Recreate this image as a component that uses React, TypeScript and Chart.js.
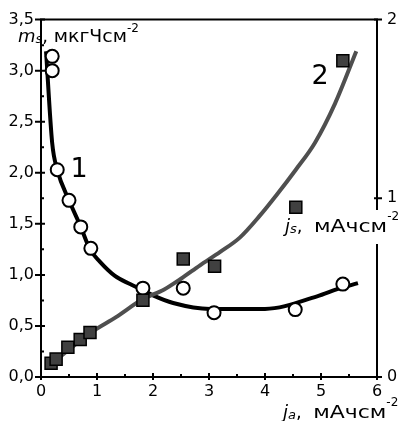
import React, { useEffect, useRef } from 'react';
import { Chart, registerables } from 'chart.js';
Chart.register(...registerables);

// Curve 1: m_s (left axis), white markers
const pts1X = [0.2, 0.2, 0.29, 0.5, 0.71, 0.89, 1.82, 2.54, 3.09, 4.54, 5.39];
const pts1Y = [3.14, 3.0, 2.03, 1.73, 1.47, 1.26, 0.87, 0.87, 0.63, 0.66, 0.91];
const curve1X = [0.09, 0.2, 0.29, 0.5, 0.71, 0.875, 1.05, 1.32, 1.59, 1.82, 2.0, 2.36, 3.02, 4.0, 4.93, 5.29, 5.66];
const curve1Y = [3.19, 2.29, 2.03, 1.73, 1.47, 1.25, 1.13, 0.99, 0.91, 0.85, 0.8, 0.725, 0.667, 0.667, 0.79, 0.86, 0.92];

// Curve 2: j_s (right axis), dark squares
const pts2X = [0.18, 0.27, 0.48, 0.7, 0.875, 1.82, 2.54, 3.1, 4.55, 5.39];
const pts2Y = [0.077, 0.1, 0.166, 0.21, 0.249, 0.43, 0.66, 0.62, 0.95, 1.77];
const curve2X = [0.2, 0.89, 1.34, 1.82, 2.2, 2.5, 2.84, 3.2, 3.55, 3.9, 4.21, 4.55, 4.89, 5.25, 5.63];
const curve2Y = [0.077, 0.249, 0.335, 0.436, 0.49, 0.55, 0.625, 0.7, 0.78, 0.9, 1.02, 1.16, 1.31, 1.53, 1.823];

const xTicksMax = 6;
const yLeftMax = 3.5;
const yRightMax = 2;

const FONT = 'DejaVu Sans';

const zip = (xs: number[], ys: number[]) => xs.map((x, i) => ({ x, y: ys[i] }));

type Seg = { t: string; size: number; italic?: boolean; dy?: number; sx?: number };

function drawSegs(ctx: CanvasRenderingContext2D, x: number, y: number, segs: Seg[]) {
  let cx = x;
  for (const s of segs) {
    ctx.font = `${s.italic ? 'italic ' : ''}${s.size}px "${FONT}"`;
    const sx = s.sx || 1;
    ctx.save();
    ctx.translate(cx, y + (s.dy || 0));
    ctx.scale(sx, 1);
    ctx.fillText(s.t, 0, 0);
    ctx.restore();
    cx += ctx.measureText(s.t).width * sx;
  }
  return cx;
}

const decorPlugin = {
  id: 'decor',
  beforeDatasetsDraw(chart: any) {
    const ctx = chart.ctx as CanvasRenderingContext2D;
    const { left, right, top, bottom } = chart.chartArea;
    const xs = chart.scales.x;
    const yl = chart.scales.y;
    const yr = chart.scales.y2;
    ctx.save();
    ctx.strokeStyle = '#000';
    ctx.lineWidth = 2;
    ctx.lineCap = 'butt';
    ctx.beginPath();
    ctx.moveTo(left, top);
    ctx.lineTo(right, top);
    ctx.moveTo(left, top - 1);
    ctx.lineTo(left, bottom + 1);
    ctx.moveTo(left - 1, bottom);
    ctx.lineTo(right + 1, bottom);
    ctx.moveTo(right, top - 1);
    ctx.lineTo(right, bottom + 1);
    ctx.stroke();
    // ticks
    ctx.beginPath();
    for (let v = 0; v <= xTicksMax + 1e-9; v += 0.5) {
      const px = xs.getPixelForValue(v);
      const major = Math.abs(v - Math.round(v)) < 1e-6;
      ctx.moveTo(px, bottom + (major ? 3 : 0));
      ctx.lineTo(px, bottom - (major ? 4 : 3));
    }
    for (let v = 0; v <= yLeftMax + 1e-9; v += 0.25) {
      const py = yl.getPixelForValue(v);
      const major = Math.abs(v * 2 - Math.round(v * 2)) < 1e-6;
      ctx.moveTo(left - (major ? 6 : 0), py);
      ctx.lineTo(left + (major ? 4 : 3), py);
    }
    for (let v = 0; v <= yRightMax + 1e-9; v += 1) {
      const py = yr.getPixelForValue(v);
      ctx.moveTo(right - 3, py);
      ctx.lineTo(right + 5, py);
    }
    ctx.stroke();
    ctx.restore();
  },
  afterDatasetsDraw(chart: any) {
    const ctx = chart.ctx as CanvasRenderingContext2D;
    ctx.save();
    ctx.fillStyle = '#000';
    ctx.textBaseline = 'alphabetic';
    ctx.textAlign = 'left';
    // left axis title
    drawSegs(ctx, 18, 42, [
      { t: 'm', size: 18, italic: true },
      { t: 's', size: 13, italic: true, dy: 1 },
      { t: ', ', size: 18 },
      { t: 'мкгЧсм', size: 18, sx: 1.05 },
      { t: '-2', size: 12, dy: -10 },
    ]);
    // right axis title with white background over the axis
    ctx.fillStyle = '#fff';
    ctx.fillRect(370, 210, 16, 34);
    ctx.fillStyle = '#000';
    drawSegs(ctx, 285, 232, [
      { t: 'j', size: 18, italic: true },
      { t: 's', size: 13, italic: true, dy: 1 },
      { t: ',  ', size: 18 },
      { t: 'мАчсм', size: 18, sx: 1.22 },
      { t: '-2', size: 12, dy: -12 },
    ]);
    // x axis title
    drawSegs(ctx, 283, 418, [
      { t: 'j', size: 18, italic: true },
      { t: 'a', size: 13, italic: true, dy: 1 },
      { t: ',  ', size: 18 },
      { t: 'мАчсм', size: 18, sx: 1.22 },
      { t: '-2', size: 12, dy: -12 },
    ]);
    // curve labels
    ctx.font = `27px "${FONT}"`;
    ctx.textAlign = 'center';
    ctx.fillText('1', 79, 177);
    ctx.fillText('2', 320, 84);
    ctx.restore();
  },
};

export default function App() {
  const ref = useRef<HTMLCanvasElement>(null);
  useEffect(() => {
    if (!ref.current) return;
    const tickFont = { family: FONT, size: 16 };
    const grid = { display: false, drawTicks: false, tickLength: 0 };
    const chart = new Chart(ref.current, {
      type: 'scatter',
      data: {
        datasets: [
          {
            data: zip(curve1X, curve1Y),
            showLine: true,
            borderColor: '#000',
            borderWidth: 4,
            pointRadius: 0,
            cubicInterpolationMode: 'monotone',
            yAxisID: 'y',
            order: 4,
          } as any,
          {
            data: zip(curve2X, curve2Y),
            showLine: true,
            borderColor: '#4f4f4f',
            borderWidth: 4,
            pointRadius: 0,
            cubicInterpolationMode: 'monotone',
            yAxisID: 'y2',
            order: 3,
          } as any,
          {
            data: zip(pts1X, pts1Y),
            showLine: false,
            pointStyle: 'circle',
            pointRadius: 6.5,
            pointBackgroundColor: '#fff',
            pointBorderColor: '#000',
            pointBorderWidth: 2,
            yAxisID: 'y',
            order: 2,
          } as any,
          {
            data: zip(pts2X, pts2Y),
            showLine: false,
            pointStyle: 'rect',
            pointRadius: 8.5,
            pointBackgroundColor: '#404040',
            pointBorderColor: '#000',
            pointBorderWidth: 1.5,
            yAxisID: 'y2',
            order: 1,
          } as any,
        ],
      },
      options: {
        animation: false,
        responsive: false,
        events: [],
        layout: { padding: { top: 15, left: 0, right: 0, bottom: 0 } },
        plugins: { legend: { display: false }, tooltip: { enabled: false } },
        scales: {
          x: {
            type: 'linear',
            min: 0,
            max: xTicksMax,
            afterFit: (s: any) => { s.height = 44; },
            grid,
            border: { display: false },
            ticks: { stepSize: 1, color: '#000', font: tickFont, padding: 5, maxRotation: 0 },
          },
          y: {
            type: 'linear',
            position: 'left',
            min: 0,
            max: yLeftMax,
            afterFit: (s: any) => { s.width = 41; },
            grid,
            border: { display: false },
            ticks: {
              stepSize: 0.5,
              color: '#000',
              font: tickFont,
              padding: 7,
              callback: (v: any) => Number(v).toFixed(1).replace('.', ','),
            },
          },
          y2: {
            type: 'linear',
            position: 'right',
            min: 0,
            max: yRightMax,
            afterFit: (s: any) => { s.width = 21; },
            grid,
            border: { display: false },
            ticks: { stepSize: 1, color: '#000', font: tickFont, padding: 10 },
          },
        },
      } as any,
      plugins: [decorPlugin],
    });
    return () => chart.destroy();
  }, []);
  return (
    <div style={{ position: 'fixed', left: 0, top: 0, width: 398, height: 421, background: '#fff' }}>
      <canvas ref={ref} width={398} height={421} style={{ display: 'block', width: 398, height: 421 }} />
    </div>
  );
}
